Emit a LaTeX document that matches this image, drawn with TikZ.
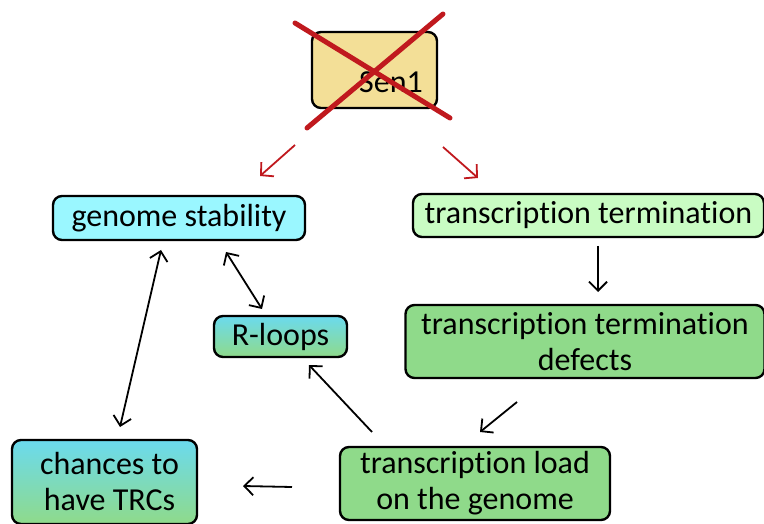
\documentclass[tikz,border=0pt]{standalone}
\usepackage{fontspec}
\setmainfont[Ligatures={NoCommon,NoRare,NoContextual}]{Carlito}
\usetikzlibrary{arrows.meta}
\definecolor{senfill}{HTML}{F3DF97}
\definecolor{cyanfill}{HTML}{9AF7FF}
\definecolor{lgreen}{HTML}{C9FCC3}
\definecolor{mgreen}{HTML}{8FDA8A}
\definecolor{gcyan}{HTML}{6BDAEE}
\definecolor{xred}{HTML}{C0191E}
\tikzset{
  box/.style={draw=black, line width=2.4pt, rounded corners=9pt, inner sep=0pt, align=center,
    font=\fontsize{32}{36}\selectfont},
  conn/.style={line width=1.8pt, -{Straight Barb[length=9pt,width=18pt,line width=1.8pt]}},
  dconn/.style={line width=1.8pt, {Straight Barb[length=9pt,width=18pt,line width=1.8pt]}-{Straight Barb[length=9pt,width=18pt,line width=1.8pt]}},
  rconn/.style={xred, line width=1.8pt, -{Straight Barb[length=9pt,width=19pt,line width=1.8pt]}},
  cross/.style={xred, line width=5pt, line cap=round},
}
\begin{document}
\begin{tikzpicture}[x=1pt,y=-1pt]
\useasboundingbox (0,0) rectangle (764,524);
% nodes
\node[box, fill=senfill, minimum width=125pt, minimum height=76pt] (sen) at (374.5,70) {};
\node[font=\fontsize{32}{36}\selectfont, inner sep=0pt] (sentext) at (391,82) {Sen1};
\node[box, fill=cyanfill, minimum width=252pt, minimum height=44pt] (gs) at (179,218) {genome stability};
\node[box, fill=lgreen, minimum width=351pt, minimum height=43pt] (tt) at (588.5,215.5) {transcription termination};
\node[box, fill=mgreen, minimum width=359pt, minimum height=73pt] (ttd) at (585,341.5) {transcription termination\\defects};
\node[box, top color=gcyan, bottom color=mgreen, minimum width=133pt, minimum height=41pt] (rl) at (280.5,336.5) {R-loops};
\node[box, top color=gcyan, bottom color=mgreen, minimum width=185pt, minimum height=84pt] (tr) at (104.5,482) {\hspace*{10pt}chances to\\\hspace*{10pt}have TRCs};
\node[box, fill=mgreen, minimum width=270pt, minimum height=73pt] (ld) at (475,483.5) {transcription load\\on the genome};
% red cross
\coordinate (x1a) at (295,23);
\coordinate (x1b) at (450,118);
\coordinate (x2a) at (443,14);
\coordinate (x2b) at (307,128);
\draw[cross] (x1a) -- (x1b);
\draw[cross] (x2a) -- (x2b);
% red arrows
\coordinate (ra1) at (295,145);
\coordinate (ra2) at (260,176);
\coordinate (rb1) at (443,147);
\coordinate (rb2) at (478,178);
\draw[rconn] (ra1) -- (ra2);
\draw[rconn] (rb1) -- (rb2);
% black connectors
\coordinate (c1) at (161,250);
\coordinate (c2) at (120,427);
\draw[dconn] (c1) -- (c2);
\coordinate (c3) at (226,252);
\coordinate (c4) at (262,309);
\draw[dconn] (c3) -- (c4);
\coordinate (c5) at (598,246);
\coordinate (c6) at (598,292);
\draw[conn] (c5) -- (c6);
\coordinate (c7) at (517,402);
\coordinate (c8) at (480,432);
\draw[conn] (c7) -- (c8);
\coordinate (c9) at (372,432);
\coordinate (c10) at (309,365);
\draw[conn] (c9) -- (c10);
\coordinate (c11) at (292,487);
\coordinate (c12) at (243,486);
\draw[conn] (c11) -- (c12);
\end{tikzpicture}
\end{document}
